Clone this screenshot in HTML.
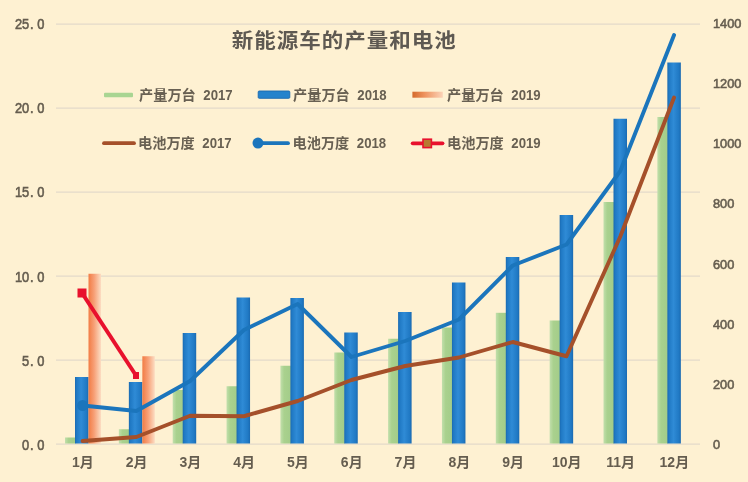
<!DOCTYPE html>
<html lang="zh"><head><meta charset="utf-8"><title>新能源车的产量和电池</title>
<style>
html,body{margin:0;padding:0;background:#FEF1D2;}
body{width:748px;height:482px;overflow:hidden;}
svg{display:block;}
text{font-family:"Liberation Sans","Noto Sans CJK SC",sans-serif;fill:#655D4F;}
.ax{font-size:13.5px;stroke:#655D4F;stroke-width:0.6px;}
.cat{font-size:14px;font-weight:bold;}
.lg{font-size:14.2px;font-weight:bold;fill:#686052;}
.dg{font-weight:bold;font-size:14.2px;fill:#686052;}
.title{font-size:21.5px;font-weight:bold;fill:#5E5952;letter-spacing:1px;}
</style></head><body>
<svg width="748" height="482" viewBox="0 0 748 482">
<defs>
<linearGradient id="gb" x1="0" y1="0" x2="1" y2="0"><stop offset="0" stop-color="#1A69B0"/><stop offset="0.12" stop-color="#2079C4"/><stop offset="0.45" stop-color="#2F8BD6"/><stop offset="0.85" stop-color="#2079C4"/><stop offset="1" stop-color="#1A69B0"/></linearGradient>
<linearGradient id="gg" x1="0" y1="0" x2="1" y2="0"><stop offset="0" stop-color="#C2DFAC"/><stop offset="0.35" stop-color="#A9D18E"/><stop offset="1" stop-color="#A3CC89"/></linearGradient>
<linearGradient id="go" x1="0" y1="0" x2="1" y2="0"><stop offset="0" stop-color="#F27C44"/><stop offset="0.45" stop-color="#F7A077"/><stop offset="1" stop-color="#FCDDC3"/></linearGradient>
<linearGradient id="gol" x1="0" y1="0" x2="1" y2="0"><stop offset="0" stop-color="#D46A2C"/><stop offset="0.4" stop-color="#EE935F"/><stop offset="1" stop-color="#FBD3B8"/></linearGradient>
</defs>
<rect width="748" height="482" fill="#FEF1D2"/>

<line x1="56" y1="24" x2="700" y2="24" stroke="#E3DACA" stroke-width="1.25"/>
<line x1="56" y1="108" x2="700" y2="108" stroke="#E3DACA" stroke-width="1.25"/>
<line x1="56" y1="192" x2="700" y2="192" stroke="#E3DACA" stroke-width="1.25"/>
<line x1="56" y1="276" x2="700" y2="276" stroke="#E3DACA" stroke-width="1.25"/>
<line x1="56" y1="360" x2="700" y2="360" stroke="#E3DACA" stroke-width="1.25"/>
<line x1="56" y1="444" x2="700" y2="444" stroke="#E3DACA" stroke-width="1.25"/>
<rect x="65.00" y="437.5" width="10.5" height="6.00" fill="url(#gg)"/>
<rect x="75.00" y="377" width="13.5" height="66.50" fill="url(#gb)"/>
<rect x="118.85" y="429.25" width="10.5" height="14.25" fill="url(#gg)"/>
<rect x="128.85" y="382" width="13.5" height="61.50" fill="url(#gb)"/>
<rect x="172.70" y="390" width="10.5" height="53.50" fill="url(#gg)"/>
<rect x="182.70" y="333" width="13.5" height="110.50" fill="url(#gb)"/>
<rect x="226.55" y="386.25" width="10.5" height="57.25" fill="url(#gg)"/>
<rect x="236.55" y="297.5" width="13.5" height="146.00" fill="url(#gb)"/>
<rect x="280.40" y="365.75" width="10.5" height="77.75" fill="url(#gg)"/>
<rect x="290.40" y="298" width="13.5" height="145.50" fill="url(#gb)"/>
<rect x="334.25" y="352.5" width="10.5" height="91.00" fill="url(#gg)"/>
<rect x="344.25" y="332.5" width="13.5" height="111.00" fill="url(#gb)"/>
<rect x="388.10" y="338.75" width="10.5" height="104.75" fill="url(#gg)"/>
<rect x="398.10" y="312" width="13.5" height="131.50" fill="url(#gb)"/>
<rect x="441.95" y="327.5" width="10.5" height="116.00" fill="url(#gg)"/>
<rect x="451.95" y="282.5" width="13.5" height="161.00" fill="url(#gb)"/>
<rect x="495.80" y="312.8" width="10.5" height="130.70" fill="url(#gg)"/>
<rect x="505.80" y="257" width="13.5" height="186.50" fill="url(#gb)"/>
<rect x="549.65" y="320.5" width="10.5" height="123.00" fill="url(#gg)"/>
<rect x="559.65" y="215" width="13.5" height="228.50" fill="url(#gb)"/>
<rect x="603.50" y="202" width="10.5" height="241.50" fill="url(#gg)"/>
<rect x="613.50" y="118.75" width="13.5" height="324.75" fill="url(#gb)"/>
<rect x="657.35" y="117" width="10.5" height="326.50" fill="url(#gg)"/>
<rect x="667.35" y="62.5" width="13.5" height="381.00" fill="url(#gb)"/>
<rect x="88.50" y="273.75" width="12.5" height="169.75" fill="url(#go)"/>
<rect x="142.35" y="356.25" width="12.5" height="87.25" fill="url(#go)"/>
<polyline points="82.60,441 136.37,437 190.14,415.75 243.91,416.25 297.68,401 351.45,380 405.22,366 458.99,357.5 512.76,342 566.53,356.25 620.30,236.5 674.07,97.5" fill="none" stroke="#A5502A" stroke-width="3.9" stroke-linejoin="round" stroke-linecap="round"/>
<polyline points="82.60,405.5 136.37,411 190.14,381 243.91,330 297.68,304 351.45,357 405.22,341 458.99,319.5 512.76,265.5 566.53,244.5 620.30,171 674.07,35" fill="none" stroke="#1B75BC" stroke-width="3.9" stroke-linejoin="round" stroke-linecap="round"/>
<circle cx="82.6" cy="405.5" r="5.5" fill="#1B75BC"/>
<polyline points="82,293 136,375.5" fill="none" stroke="#E8112D" stroke-width="4"/>
<rect x="77.5" y="288.5" width="9" height="9" fill="#E8112D"/>
<rect x="133" y="372" width="6" height="7" fill="#E8112D"/>
<text class="ax" style="font-size:14.3px" transform="translate(44.3,29.0) scale(0.9,1)" text-anchor="end">25<tspan dx="0.9">.</tspan><tspan dx="3.9">0</tspan></text>
<text class="ax" style="font-size:14.3px" transform="translate(44.3,113.2) scale(0.9,1)" text-anchor="end">20<tspan dx="0.9">.</tspan><tspan dx="3.9">0</tspan></text>
<text class="ax" style="font-size:14.3px" transform="translate(44.3,197.4) scale(0.9,1)" text-anchor="end">15<tspan dx="0.9">.</tspan><tspan dx="3.9">0</tspan></text>
<text class="ax" style="font-size:14.3px" transform="translate(44.3,281.6) scale(0.9,1)" text-anchor="end">10<tspan dx="0.9">.</tspan><tspan dx="3.9">0</tspan></text>
<text class="ax" style="font-size:14.3px" transform="translate(44.3,365.8) scale(0.9,1)" text-anchor="end">5<tspan dx="0.9">.</tspan><tspan dx="3.9">0</tspan></text>
<text class="ax" style="font-size:14.3px" transform="translate(44.3,450.0) scale(0.9,1)" text-anchor="end">0<tspan dx="0.9">.</tspan><tspan dx="3.9">0</tspan></text>
<text class="ax" transform="translate(712.9,27.9) scale(0.95,1)">1400</text>
<text class="ax" transform="translate(712.9,88.1) scale(0.95,1)">1200</text>
<text class="ax" transform="translate(712.9,148.3) scale(0.95,1)">1000</text>
<text class="ax" transform="translate(712.9,208.4) scale(0.95,1)">800</text>
<text class="ax" transform="translate(712.9,268.6) scale(0.95,1)">600</text>
<text class="ax" transform="translate(712.9,328.8) scale(0.95,1)">400</text>
<text class="ax" transform="translate(712.9,389.0) scale(0.95,1)">200</text>
<text class="ax" transform="translate(712.9,449.2) scale(0.95,1)">0</text>
<text class="cat" x="82.90" y="466.6" text-anchor="middle">1月</text>
<text class="cat" x="136.67" y="466.6" text-anchor="middle">2月</text>
<text class="cat" x="190.44" y="466.6" text-anchor="middle">3月</text>
<text class="cat" x="244.21" y="466.6" text-anchor="middle">4月</text>
<text class="cat" x="297.98" y="466.6" text-anchor="middle">5月</text>
<text class="cat" x="351.75" y="466.6" text-anchor="middle">6月</text>
<text class="cat" x="405.52" y="466.6" text-anchor="middle">7月</text>
<text class="cat" x="459.29" y="466.6" text-anchor="middle">8月</text>
<text class="cat" x="513.06" y="466.6" text-anchor="middle">9月</text>
<text class="cat" x="566.83" y="466.6" text-anchor="middle">10月</text>
<text class="cat" x="620.60" y="466.6" text-anchor="middle">11月</text>
<text class="cat" x="674.37" y="466.6" text-anchor="middle">12月</text>
<text class="title" transform="translate(344.3,48.0) scale(1,0.93)" text-anchor="middle">新能源车的产量和电池</text>
<rect x="104" y="92.7" width="29" height="4.6" rx="1" fill="#A9D592"/>
<text class="lg" x="139.0" y="100">产量万台</text><text class="dg" transform="translate(203.3,100) scale(0.93,1)">2017</text>
<rect x="258.2" y="91" width="31.6" height="7.3" rx="1" fill="#2583CC" stroke="#1A69B0" stroke-width="0.9"/>
<text class="lg" x="293.0" y="100">产量万台</text><text class="dg" transform="translate(357.3,100) scale(0.93,1)">2018</text>
<rect x="412.4" y="91.7" width="30.4" height="6" fill="url(#gol)"/>
<text class="lg" x="447.0" y="100">产量万台</text><text class="dg" transform="translate(511.3,100) scale(0.93,1)">2019</text>
<line x1="104" y1="143.2" x2="134" y2="143.2" stroke="#A5502A" stroke-width="3.8" stroke-linecap="round"/>
<text class="lg" x="138.0" y="148.3">电池万度</text><text class="dg" transform="translate(202.3,148.3) scale(0.93,1)">2017</text>
<line x1="258" y1="143.2" x2="288" y2="143.2" stroke="#1B75BC" stroke-width="3.8" stroke-linecap="round"/>
<circle cx="258" cy="143.1" r="5.5" fill="#1B75BC"/>
<text class="lg" x="292.5" y="148.3">电池万度</text><text class="dg" transform="translate(356.8,148.3) scale(0.93,1)">2018</text>
<line x1="412.7" y1="143.3" x2="442.5" y2="143.3" stroke="#E8112D" stroke-width="3.8" stroke-linecap="round"/>
<rect x="423" y="139.2" width="8.4" height="8.4" fill="#B87A30" stroke="#E8112D" stroke-width="1.6"/>
<text class="lg" x="447.0" y="148.3">电池万度</text><text class="dg" transform="translate(511.3,148.3) scale(0.93,1)">2019</text>
</svg></body></html>
